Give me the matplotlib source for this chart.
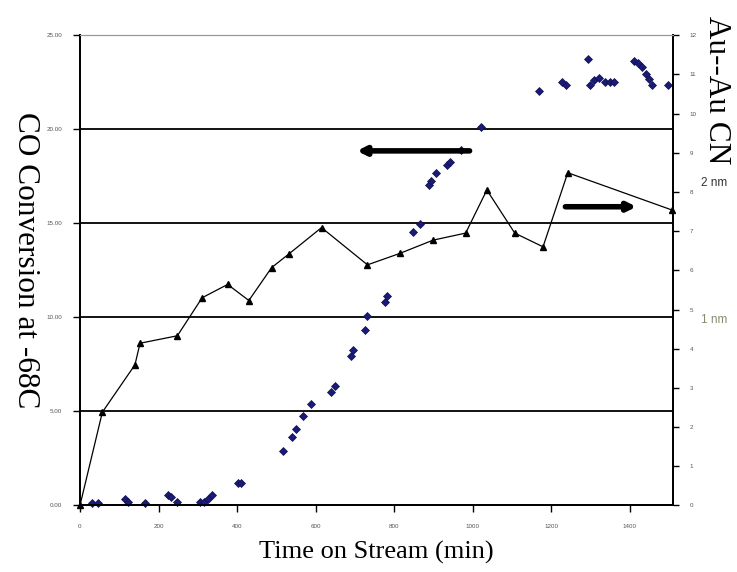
import matplotlib
matplotlib.use("Agg")
import matplotlib.pyplot as plt

# CO conversion at -68C (left axis)
conv_time = [30, 45, 114, 123, 165, 223, 233, 246, 305, 316, 326, 337, 403, 411,
             517, 539, 551, 568, 587, 640, 649, 689, 695, 725, 730, 776, 782,
             847, 865, 889, 895, 906, 935, 943, 971, 1022,
             1170, 1228, 1238, 1293, 1299, 1310, 1321, 1336, 1349, 1359,
             1410, 1421, 1432, 1440, 1449, 1457, 1497]
conv_pct = [0.12, 0.12, 0.33, 0.20, 0.12, 0.56, 0.47, 0.20, 0.20, 0.20, 0.33, 0.56, 1.21, 1.21,
            2.91, 3.66, 4.05, 4.76, 5.39, 6.05, 6.35, 7.94, 8.26, 9.33, 10.07, 10.84, 11.15,
            14.55, 14.94, 17.03, 17.26, 17.68, 18.09, 18.27, 18.89, 20.13,
            22.04, 22.52, 22.34, 23.76, 22.34, 22.61, 22.70, 22.52, 22.52, 22.52,
            23.63, 23.53, 23.32, 22.96, 22.65, 22.34, 22.34]

# Au--Au coordination number (right axis)
cn_time = [0, 57, 140, 153, 248, 311, 376, 430, 488, 531, 615, 732, 814, 899, 982,
           1036, 1107, 1179, 1242, 1507]
cn_val = [0.0, 2.38, 3.59, 4.14, 4.33, 5.30, 5.64, 5.23, 6.07, 6.41, 7.09, 6.14, 6.43,
          6.77, 6.95, 8.05, 6.95, 6.60, 8.49, 7.54]

x_ticks = [0, 200, 400, 600, 800, 1000, 1200, 1400]
left_ticks = [0, 5, 10, 15, 20, 25]
right_ticks = list(range(0, 13))

serif = "Liberation Serif"
tick_font = dict(family="Liberation Sans", size=4.5, color="#555555")

fig = plt.figure(figsize=(7.37, 5.72), dpi=100)
ax = fig.add_axes([0.1085, 0.1163, 0.8047, 0.8222])
ax2 = ax.twinx()

# horizontal grid on the conversion axis
for v in left_ticks[1:-1]:
    ax.axhline(v, color="black", lw=1.3, zorder=1)

ax.plot(conv_time, conv_pct, linestyle="none", marker="D", markersize=4.4,
        color="#1a1a78", markeredgecolor="#10104a", markeredgewidth=0.5,
        zorder=3, clip_on=False)

ax2.plot(cn_time, cn_val, color="black", lw=0.9, marker="^", markersize=5,
         markerfacecolor="black", zorder=4, clip_on=False)

ax.set_xlim(0, 1510)
ax.set_ylim(0, 25)
ax2.set_ylim(0, 12)

ax.set_xticks(x_ticks)
ax.set_xticklabels([str(t) for t in x_ticks], **tick_font)
ax.set_yticks(left_ticks)
ax.set_yticklabels([f"{t:.2f}" for t in left_ticks], **tick_font)
ax2.set_yticks(right_ticks)
ax2.set_yticklabels([str(t) for t in right_ticks], **tick_font)

ax.tick_params(axis="both", direction="out", length=5, width=1, pad=8)
ax2.tick_params(axis="y", direction="out", length=4, width=1, pad=8)

for a in (ax, ax2):
    for side in ("left", "right", "bottom"):
        a.spines[side].set_linewidth(1.3)
        a.spines[side].set_color("black")
    a.spines["top"].set_color("#999999")
    a.spines["top"].set_linewidth(0.8)

ax.set_xlabel("Time on Stream (min)", family=serif, fontsize=19, labelpad=9)
fig.text(0.034, 0.545, "CO Conversion at -68C", family=serif, fontsize=22.5,
         rotation=270, ha="center", va="center")
fig.text(0.972, 0.843, "Au--Au CN", family=serif, fontsize=22.5,
         rotation=270, ha="center", va="center")
fig.text(0.951, 0.68, "2 nm", family="Liberation Sans", fontsize=8.5,
         color="#333333", ha="left", va="center")
fig.text(0.951, 0.44, "1 nm", family="Liberation Sans", fontsize=8.5,
         color="#8a8a70", ha="left", va="center")

# arrows pointing each series to its axis
ax.annotate("", xy=(705, 18.85), xytext=(992, 18.85),
            arrowprops=dict(arrowstyle="-|>", lw=4, color="black",
                            mutation_scale=12, shrinkA=0, shrinkB=0), zorder=5)
ax.annotate("", xy=(1417, 15.88), xytext=(1236, 15.88),
            arrowprops=dict(arrowstyle="-|>", lw=4, color="black",
                            mutation_scale=12, shrinkA=0, shrinkB=0), zorder=5)

fig.savefig("out.png", dpi=100, facecolor="white")
